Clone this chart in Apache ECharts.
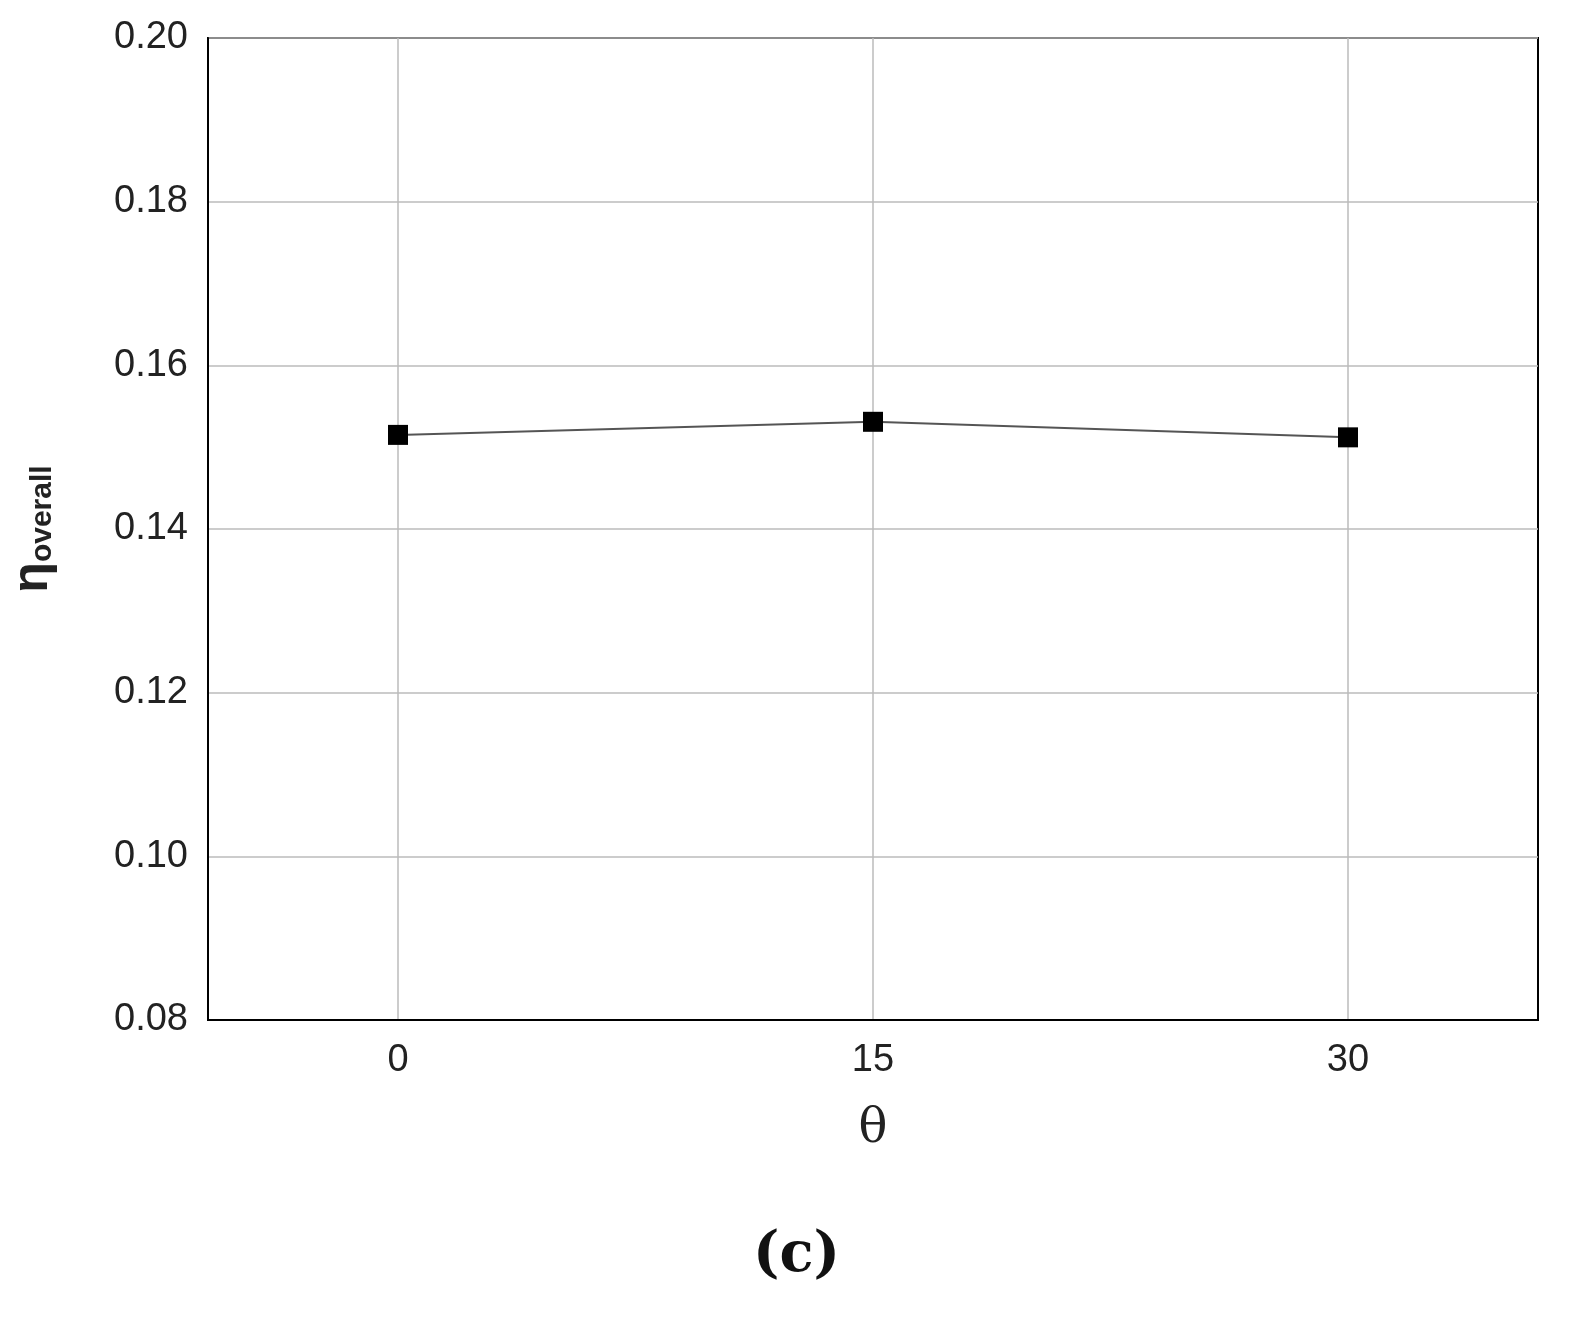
<!DOCTYPE html>
<html>
<head>
<meta charset="utf-8">
<script src="https://cdn.jsdelivr.net/npm/echarts@6/dist/echarts.min.js"></script>
<style>html,body{margin:0;padding:0;background:#fff}#chart{width:1593px;height:1338px}</style>
</head>
<body>
<div id="chart"></div>
<script>
var thetaValues = [0, 15, 30];
var etaOverall = [0.1515, 0.1531, 0.1512];
var xTicks = [0, 15, 30];

var points = thetaValues.map(function (t, i) { return [t, etaOverall[i]]; });

var myChart = echarts.init(document.getElementById('chart'));
var option = {
    backgroundColor: '#fff',
    animation: false,
    grid: {
        left: 202, right: 55, top: 38, bottom: 318,
        show: true, borderColor: '#000', borderWidth: 2
    },
    xAxis: {
        type: 'value', min: -6, max: 36,
        name: 'θ', nameLocation: 'middle', nameGap: 86,
        nameTextStyle: { fontFamily: 'DejaVu Serif', fontSize: 48, color: '#222' },
        axisLine: { onZero: false, lineStyle: { color: '#000', width: 2 } },
        axisTick: { show: false, customValues: xTicks },
        axisLabel: { customValues: xTicks, fontFamily: 'Liberation Sans', fontSize: 38, color: '#222', margin: 22 },
        splitLine: { show: true, lineStyle: { color: '#bbb', width: 1.5 } }
    },
    yAxis: {
        type: 'value', min: 0.08, max: 0.20, interval: 0.02,
        name: '{e|η}{s|overall}', nameLocation: 'middle', nameGap: 150, nameRotate: 90,
        nameTextStyle: {
            rich: {
                e: { fontFamily: 'Liberation Sans', fontSize: 50, fontWeight: 'bold', color: '#222' },
                s: { fontFamily: 'Liberation Sans', fontSize: 30, fontWeight: 'bold', color: '#222', verticalAlign: 'bottom', padding: [16, 0, 0, 0] }
            }
        },
        axisLine: { show: true, onZero: false, lineStyle: { color: '#000', width: 2 } },
        axisTick: { show: false },
        axisLabel: {
            fontFamily: 'Liberation Sans', fontSize: 38, color: '#222', margin: 20,
            formatter: function (v) { return v.toFixed(2); }
        },
        splitLine: { show: true, lineStyle: { color: '#bbb', width: 1.5 } }
    },
    graphic: [{
        type: 'text', left: 'center', top: 1228,
        style: { text: '(c)', fontFamily: 'DejaVu Serif', fontSize: 56, fontWeight: 'bold', fill: '#111' }
    }],
    series: [{
        type: 'line',
        data: points,
        symbol: 'rect', symbolSize: 20,
        itemStyle: { color: '#000' },
        lineStyle: { color: '#555', width: 2 }
    }]
};
myChart.setOption(option);
</script>
</body>
</html>
